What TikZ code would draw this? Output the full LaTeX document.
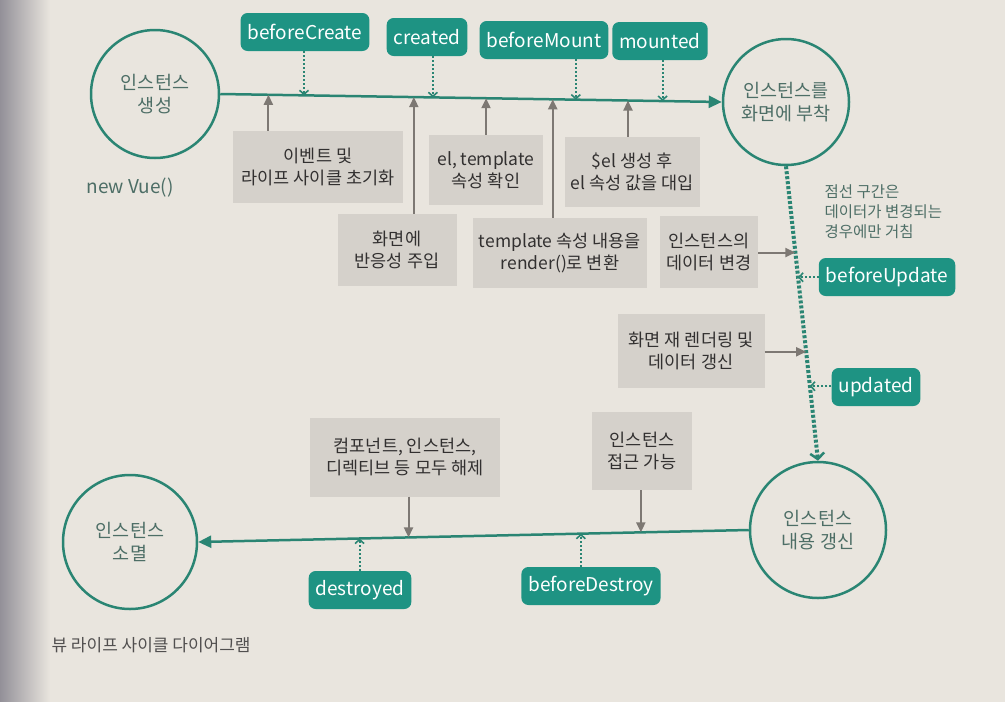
\documentclass[tikz,border=0pt]{standalone}
\usepackage{fontspec}
\setmainfont{Noto Sans CJK KR}
\usetikzlibrary{arrows.meta,shadings}
\definecolor{vpaper}{HTML}{E9E5DE}
\definecolor{vteal}{HTML}{1E9383}
\definecolor{vline}{HTML}{2A8573}
\definecolor{vgray}{HTML}{D5D1CB}
\definecolor{vtext}{HTML}{323030}
\definecolor{vcircle}{HTML}{4D6E66}
\definecolor{varrow}{HTML}{7D7873}
\tikzset{
	stage/.style={circle, draw=vline, line width=2.5pt, minimum size=#1, inner sep=0pt, align=center, text=vcircle, font=\fontsize{18.5}{23}\selectfont},
	hook/.style={rounded corners=7pt, fill=vteal, text=white, minimum height=38pt, inner xsep=7pt, font=\fontsize{19}{22}\selectfont},
	work/.style={fill=vgray, text=vtext, align=center, minimum height=72pt, inner sep=2pt, font=\fontsize{17.5}{22}\selectfont},
	flow/.style={draw=vline, line width=2.5pt, -{Triangle[length=13pt,width=12pt]}},
	act/.style={draw=varrow, line width=2pt, -{Triangle[length=10pt,width=9pt]}},
	hookarr/.style={draw=vline, line width=2pt, dotted, -{Straight Barb[length=4pt,width=9pt,line width=1.6pt]}},
	updline/.style={draw=vline, line width=4pt, dash pattern=on 3pt off 2pt, -{Straight Barb[length=6pt,width=14pt,line width=2.5pt]}},
}

\begin{document}
\begin{tikzpicture}[x=1pt, y=-1pt]
	%%%%% START %%%%%
	
	\useasboundingbox (0, 0) rectangle (1005, 702);
	\fill[vpaper] (0, 0) rectangle (1005, 702);
	\shade[left color=black!30!blue!10!vpaper!70!black, right color=vpaper] (0, 0) rectangle (50, 702);
	
	% stages
	\node[stage=128pt] (born) at (155, 94) {인스턴스\\생성};
	\node[stage=126pt] (mount) at (786, 102) {인스턴스를\\화면에 부착};
	\node[stage=136pt] (update) at (818, 530) {인스턴스\\내용 갱신};
	\node[stage=134pt] (gone) at (130, 542) {인스턴스\\소멸};
	
	\node[text=vcircle, font=\fontsize{19}{22}\selectfont] (newvue) at (130, 188) {new Vue()};
	
	% main flow
	\draw[flow] (born.east) -- (mount.west)
		coordinate[pos=.096] (tInit) coordinate[pos=.167] (tBC)
		coordinate[pos=.386] (tReact) coordinate[pos=.424] (tCr)
		coordinate[pos=.530] (tEl) coordinate[pos=.663] (tRender)
		coordinate[pos=.709] (tBM) coordinate[pos=.813] (tSel)
		coordinate[pos=.882] (tMo);
	
	\draw[updline] (mount.south) -- (update.north)
		coordinate[pos=.293] (uChg) coordinate[pos=.377] (uBU)
		coordinate[pos=.630] (uRe) coordinate[pos=.747] (uUp);
	
	\draw[flow] (update.west) -- (gone.east)
		coordinate[pos=.196] (bAcc) coordinate[pos=.305] (bBD)
		coordinate[pos=.618] (bFree) coordinate[pos=.707] (bDe);
	
	% hooks
	\node[hook] (beforeCreate) at (305, 32) {beforeCreate};
	\node[hook] (created) at (427, 37) {created};
	\node[hook] (beforeMount) at (544, 40) {beforeMount};
	\node[hook] (mounted) at (660, 41) {mounted};
	\node[hook] (beforeUpdate) at (887, 277) {beforeUpdate};
	\node[hook] (updated) at (876, 387) {updated};
	\node[hook] (destroyed) at (360, 590) {destroyed};
	\node[hook] (beforeDestroy) at (591, 586) {beforeDestroy};
	
	\draw[hookarr] (beforeCreate.south -| tBC) -- (tBC);
	\draw[hookarr] (created.south -| tCr) -- (tCr);
	\draw[hookarr] (beforeMount.south -| tBM) -- (tBM);
	\draw[hookarr] (mounted.south -| tMo) -- (tMo);
	\draw[hookarr] (beforeUpdate.west |- uBU) -- (uBU);
	\draw[hookarr] (updated.west |- uUp) -- (uUp);
	\draw[hookarr] (destroyed.north -| bDe) -- (bDe);
	\draw[hookarr] (beforeDestroy.north -| bBD) -- (bBD);
	
	% work boxes
	\node[work, minimum width=170pt] (init) at (318, 167) {이벤트 및\\라이프 사이클 초기화};
	\node[work, minimum width=114pt, minimum height=70pt] (eltpl) at (486, 170) {el, template\\속성 확인};
	\node[work, minimum width=135pt, minimum height=70pt] (sel) at (632, 172) {\$el 생성 후\\el 속성 값을 대입};
	\node[work, minimum width=119pt] (react) at (397, 250) {화면에\\반응성 주입};
	\node[work, minimum width=174pt, minimum height=70pt] (render) at (560, 253) {template 속성 내용을\\render()로 변환};
	\node[work, minimum width=98pt] (change) at (709, 252) {인스턴스의\\데이터 변경};
	\node[work, minimum width=147pt, minimum height=74pt] (rerender) at (691, 351) {화면 재 렌더링 및\\데이터 갱신};
	\node[work, minimum width=190pt, minimum height=79pt] (free) at (405, 457) {컴포넌트, 인스턴스,\\디렉티브 등 모두 해제};
	\node[work, minimum width=100pt, minimum height=78pt] (access) at (642, 451) {인스턴스\\접근 가능};
	
	\draw[act] (init.north -| tInit) -- (tInit);
	\draw[act] (eltpl.north -| tEl) -- (tEl);
	\draw[act] (sel.north -| tSel) -- (tSel);
	\draw[act] (react.north -| tReact) -- (tReact);
	\draw[act] (render.north -| tRender) -- (tRender);
	\draw[act] (change.east |- uChg) -- (uChg);
	\draw[act] (rerender.east |- uRe) -- (uRe);
	\draw[act] (free.south -| bFree) -- (bFree);
	\draw[act] (access.south -| bAcc) -- (bAcc);
	
	% notes
	\node[anchor=west, align=left, text=vcircle, font=\fontsize{15.5}{20}\selectfont] (dotnote) at (821, 212) {점선 구간은\\데이터가 변경되는\\경우에만 거침};
	\node[anchor=west, text=vtext!85, font=\fontsize{17}{20}\selectfont] (caption) at (48, 645) {뷰 라이프 사이클 다이어그램};
	
	%%%%% END %%%%%
\end{tikzpicture}
\end{document}
